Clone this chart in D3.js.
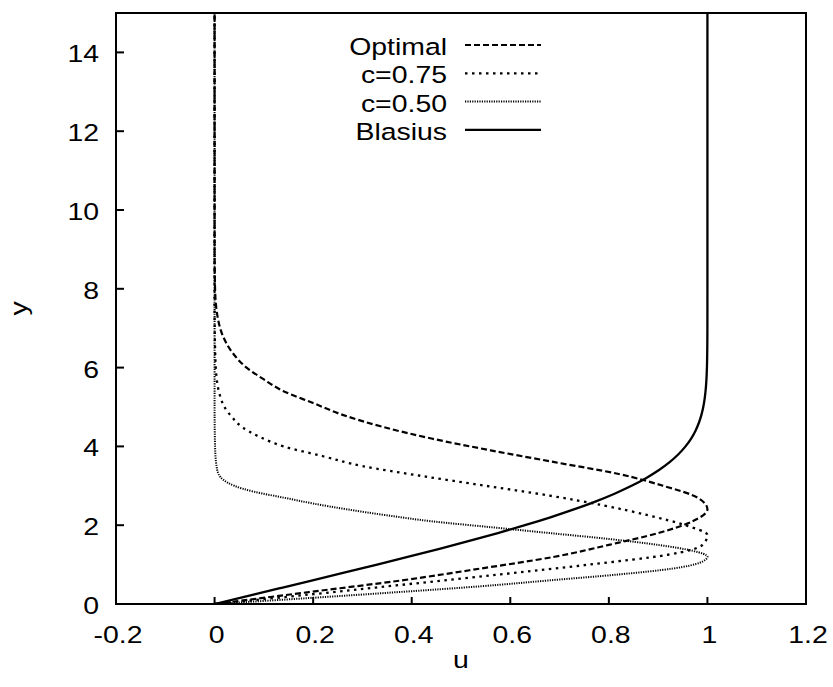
<!DOCTYPE html>
<html>
<head>
<meta charset="utf-8">
<script src="https://cdn.jsdelivr.net/npm/d3@7"></script>
<style>
  body { margin: 0; background: #fff; }
  text { font-family: "Liberation Sans", Arial, sans-serif; fill: #000; font-size: 24.5px; }
</style>
</head>
<body>
<div id="chart"></div>
<script>
// y positions and u values for each profile
const optimalY = [0, 0.3, 0.6, 0.9, 1.2, 1.5, 1.8, 2.1, 2.4, 2.7, 3.0, 3.3, 3.6, 3.9, 4.2, 4.5, 4.8, 5.1, 5.4, 5.7, 6.0, 6.4, 6.8, 7.3, 8, 9, 15];
const optimalU = [0, 0.19, 0.38, 0.54, 0.69, 0.80, 0.90, 0.97, 1.0, 0.98, 0.91, 0.82, 0.69, 0.56, 0.44, 0.34, 0.26, 0.20, 0.14, 0.10, 0.065, 0.035, 0.017, 0.006, 0.001, 0, 0];

const c75Y = [0, 0.25, 0.5, 0.75, 1.0, 1.25, 1.5, 1.75, 2.0, 2.25, 2.5, 2.75, 3.0, 3.25, 3.5, 3.75, 4.0, 4.25, 4.5, 4.75, 5.0, 5.25, 5.75, 6.5, 7.5, 15];
const c75U = [0, 0.2, 0.39, 0.58, 0.76, 0.92, 0.99, 1.0, 0.955, 0.88, 0.79, 0.68, 0.55, 0.42, 0.30, 0.22, 0.14, 0.09, 0.055, 0.035, 0.02, 0.012, 0.004, 0.001, 0, 0];

const c50Y = [0, 0.15, 0.3, 0.45, 0.6, 0.75, 0.9, 1.05, 1.2, 1.35, 1.5, 1.65, 1.8, 1.95, 2.1, 2.25, 2.4, 2.55, 2.7, 2.85, 3.0, 3.15, 3.3, 3.5, 4, 5, 15];
const c50U = [0, 0.19, 0.37, 0.54, 0.68, 0.82, 0.93, 0.985, 1.0, 0.97, 0.90, 0.80, 0.68, 0.56, 0.44, 0.35, 0.27, 0.20, 0.14, 0.08, 0.04, 0.018, 0.008, 0.004, 0.001, 0, 0];

const blasiusY = [0, 0.2, 0.4, 0.6, 0.8, 1.0, 1.2, 1.4, 1.6, 1.8, 2.0, 2.2, 2.4, 2.6, 2.8, 3.0, 3.2, 3.4, 3.6, 3.8, 4.0, 4.2, 4.4, 4.6, 4.8, 5.0, 5.2, 5.4, 5.6, 5.8, 6.0, 6.4, 6.8, 7.2, 8, 15];
const blasiusU = [0, 0.06641, 0.13277, 0.19894, 0.26471, 0.32979, 0.39378, 0.45627, 0.51676, 0.57477, 0.62977, 0.68132, 0.72899, 0.77246, 0.81152, 0.84605, 0.87609, 0.90177, 0.92333, 0.94112, 0.95552, 0.96696, 0.97587, 0.98269, 0.98779, 0.99155, 0.99425, 0.99616, 0.99748, 0.99838, 0.99898, 0.99961, 0.99987, 0.99996, 1.0, 1.0];

const seriesNames = ["Optimal", "c=0.75", "c=0.50", "Blasius"];
const xTicks = [-0.2, 0, 0.2, 0.4, 0.6, 0.8, 1, 1.2];
const yTicks = [0, 2, 4, 6, 8, 10, 12, 14];

const width = 833, height = 687;
const margin = { top: 13, right: 27, bottom: 83, left: 116 };
const stretch = 1.16; // reference font is a bit wider than Liberation Sans

const svg = d3.select("#chart").append("svg")
    .attr("width", width)
    .attr("height", height);

const x = d3.scaleLinear().domain([-0.2, 1.2]).range([margin.left, width - margin.right]);
const y = d3.scaleLinear().domain([0, 15]).range([height - margin.bottom, margin.top]);

// clip to plot area
svg.append("clipPath").attr("id", "plotClip")
    .append("rect")
    .attr("x", margin.left).attr("y", margin.top)
    .attr("width", x(1.2) - x(-0.2)).attr("height", y(0) - y(15));

const series = [
    { name: seriesNames[0], ys: optimalY, us: optimalU, dash: "6,3", w: 2.2 },
    { name: seriesNames[1], ys: c75Y, us: c75U, dash: "2.5,4.5", w: 2.3 },
    { name: seriesNames[2], ys: c50Y, us: c50U, dash: "1.2,1.2", w: 2 },
    { name: seriesNames[3], ys: blasiusY, us: blasiusU, dash: null, w: 2.3 }
];

const line = d3.line()
    .x(d => x(d[0]))
    .y(d => y(d[1]))
    .curve(d3.curveMonotoneY);

const plot = svg.append("g").attr("clip-path", "url(#plotClip)");

series.forEach(s => {
    plot.append("path")
        .datum(s.us.map((u, i) => [u, s.ys[i]]))
        .attr("fill", "none")
        .attr("stroke", "#000")
        .attr("stroke-width", s.w)
        .attr("stroke-dasharray", s.dash)
        .attr("d", line);
});

// ticks (inside, left and bottom only)
svg.selectAll(".xtick")
    .data(xTicks)
    .join("line")
    .attr("x1", d => x(d)).attr("x2", d => x(d))
    .attr("y1", y(0)).attr("y2", y(0) - 7)
    .attr("stroke", "#000").attr("stroke-width", 2);

svg.selectAll(".xlabel")
    .data(xTicks)
    .join("text")
    .attr("transform", d => `translate(${x(d) + 2}, ${y(0) + 39}) scale(${stretch},1)`)
    .attr("text-anchor", "middle")
    .text(d => d3.format("")(d).replace("\u2212", "-"));

svg.selectAll(".ytick")
    .data(yTicks)
    .join("line")
    .attr("x1", x(-0.2)).attr("x2", x(-0.2) + 8)
    .attr("y1", d => y(d)).attr("y2", d => y(d))
    .attr("stroke", "#000").attr("stroke-width", 2);

svg.selectAll(".ylabel")
    .data(yTicks)
    .join("text")
    .attr("transform", d => `translate(${margin.left - 17}, ${y(d) + 10}) scale(${stretch},1)`)
    .attr("text-anchor", "end")
    .text(d => d);

// frame
svg.append("rect")
    .attr("x", margin.left).attr("y", margin.top)
    .attr("width", x(1.2) - x(-0.2)).attr("height", y(0) - y(15))
    .attr("fill", "none").attr("stroke", "#000").attr("stroke-width", 2);

// axis titles
svg.append("text")
    .attr("transform", `translate(${(x(-0.2) + x(1.2)) / 2}, 668) scale(${stretch},1)`)
    .attr("text-anchor", "middle")
    .text("u");

svg.append("text")
    .attr("transform", `translate(27, ${(y(0) + y(15)) / 2}) rotate(-90) scale(${stretch},1)`)
    .attr("text-anchor", "middle")
    .text("y");

// legend
const legend = svg.append("g");
series.forEach((s, i) => {
    const ly = 45 + i * 28.3;
    legend.append("text")
        .attr("transform", `translate(447, ${ly + 10}) scale(${stretch},1)`)
        .attr("text-anchor", "end")
        .text(s.name);
    legend.append("line")
        .attr("x1", 465).attr("x2", 541)
        .attr("y1", ly).attr("y2", ly)
        .attr("stroke", "#000")
        .attr("stroke-width", s.w)
        .attr("stroke-dasharray", s.dash);
});
</script>
</body>
</html>
